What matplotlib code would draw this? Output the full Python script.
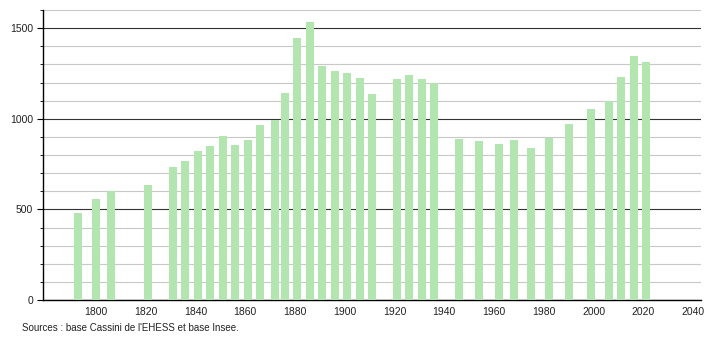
import matplotlib
matplotlib.use("Agg")
import matplotlib.pyplot as plt
from matplotlib.ticker import MultipleLocator

years = [1793, 1800, 1806, 1821, 1831, 1836, 1841, 1846, 1851, 1856,
         1861, 1866, 1872, 1876, 1881, 1886, 1891, 1896, 1901, 1906,
         1911, 1921, 1926, 1931, 1936, 1946, 1954, 1962, 1968, 1975,
         1982, 1990, 1999, 2006, 2011, 2016, 2021]
population = [480, 558, 604, 637, 735, 765, 820, 850, 903, 855,
              881, 964, 992, 1141, 1446, 1533, 1289, 1263, 1252, 1223,
              1136, 1219, 1241, 1219, 1200, 887, 875, 859, 881, 837,
              892, 970, 1053, 1099, 1232, 1346, 1315]
x_ticks = [1800, 1820, 1840, 1860, 1880, 1900, 1920, 1940, 1960, 1980, 2000, 2020, 2040]
y_ticks = [0, 500, 1000, 1500]
source = "Sources : base Cassini de l'EHESS et base Insee."

plt.rcParams['font.family'] = ['Liberation Sans', 'DejaVu Sans']

fig = plt.figure(figsize=(7.1, 3.4), dpi=100)
ax = fig.add_axes([43 / 710, 40 / 340, 658 / 710, 290 / 340])

ax.bar(years, population, width=3.2, color='#b2e5b0', zorder=3, align='center')

ax.set_xlim(1778.8, 2043.1)
ax.set_ylim(0, 1600)
ax.set_xticks(x_ticks)
ax.set_yticks(y_ticks)
ax.yaxis.set_minor_locator(MultipleLocator(100))

ax.grid(axis='y', which='minor', color='#c8c8c8', linewidth=0.8, zorder=1)
ax.grid(axis='y', which='major', color='#333333', linewidth=0.8, zorder=2)

for s in ['top', 'right']:
    ax.spines[s].set_visible(False)
ax.spines['left'].set_color('black')
ax.spines['bottom'].set_color('black')
ax.spines['left'].set_linewidth(1)
ax.spines['bottom'].set_linewidth(1)

ax.tick_params(axis='x', length=0, labelsize=7.5, pad=5, labelcolor='#222222')
ax.tick_params(axis='y', which='major', length=4, labelsize=7.5, pad=3, labelcolor='#222222')
ax.tick_params(axis='y', which='minor', length=2)

fig.text(22 / 710, 1 - 328 / 340, source, fontsize=7, va='center', ha='left', color='#222222')

fig.savefig('out.png', dpi=100)
